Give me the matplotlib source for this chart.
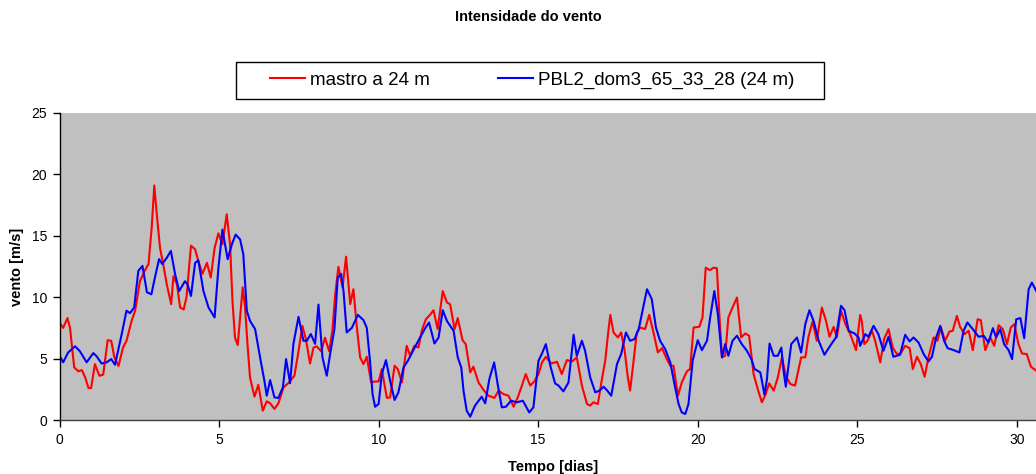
import matplotlib
matplotlib.use("Agg")
import matplotlib.pyplot as plt
from matplotlib.patches import Rectangle

plt.rcParams['font.family'] = ['Liberation Sans', 'DejaVu Sans']

title = "Intensidade do vento"
xlabel = "Tempo [dias]"
ylabel = "vento [m/s]"
label_red = "mastro a 24 m"
label_blue = "PBL2_dom3_65_33_28 (24 m)"

xticks = [0, 5, 10, 15, 20, 25, 30]
yticks = [0, 5, 10, 15, 20, 25]

red_t = [0.0, 0.115, 0.25, 0.33, 0.46, 0.59, 0.70, 0.80, 0.91, 0.99, 1.11, 1.25, 1.37, 1.51, 1.62, 1.72,
         1.85, 1.99, 2.10, 2.26, 2.37, 2.52, 2.68, 2.79, 2.89, 2.97, 3.04, 3.15, 3.25, 3.36, 3.50, 3.57,
         3.68, 3.78, 3.89, 3.98, 4.12, 4.25, 4.35, 4.48, 4.62, 4.74, 4.86,
         4.98, 5.105, 5.24, 5.345, 5.42, 5.5, 5.585, 5.66, 5.74, 5.815, 5.89, 5.97, 6.11, 6.23, 6.37,
         6.495, 6.6, 6.735, 6.86, 7.02, 7.17, 7.36, 7.49, 7.61, 7.72, 7.85, 7.96, 8.06, 8.2, 8.32, 8.45,
         8.55, 8.64, 8.74, 8.87, 8.98, 9.11, 9.21, 9.32, 9.42, 9.525, 9.63, 9.765,
         9.89, 10.0, 10.1, 10.18, 10.26, 10.36, 10.5, 10.6, 10.73, 10.88, 10.99, 11.12, 11.25, 11.35,
         11.48, 11.61, 11.72, 11.85, 12.01, 12.14, 12.24, 12.38, 12.48, 12.63, 12.73, 12.87, 12.97,
         13.13, 13.29, 13.44, 13.63, 13.76, 13.91, 14.07, 14.23, 14.36, 14.49, 14.61, 14.75, 14.88,
         15.01, 15.12, 15.24, 15.41, 15.59, 15.74, 15.9, 16.06, 16.21, 16.37, 16.53, 16.63, 16.73,
         16.87, 16.99, 17.1, 17.2, 17.26, 17.36, 17.5, 17.6, 17.71, 17.81, 17.88, 17.99, 18.09, 18.2,
         18.35, 18.48, 18.62, 18.75, 18.88, 19.03, 19.14, 19.24, 19.38, 19.5, 19.66, 19.76, 19.87,
         20.05, 20.15, 20.25, 20.39, 20.49, 20.6, 20.67, 20.76, 20.86, 20.96, 21.09, 21.23, 21.36,
         21.49, 21.61, 21.75, 21.88, 22.01, 22.11, 22.24, 22.38, 22.51, 22.64, 22.76, 22.9, 23.05,
         23.24, 23.37, 23.47, 23.6, 23.73, 23.89, 24.02, 24.13, 24.26, 24.36, 24.49, 24.62, 24.78,
         24.96, 25.09, 25.14, 25.22, 25.32, 25.46, 25.56, 25.72, 25.84, 25.98, 26.11, 26.24, 26.36,
         26.5, 26.64, 26.74, 26.87, 26.99, 27.11, 27.23, 27.39, 27.51, 27.62, 27.75, 27.89, 27.99,
         28.12, 28.22, 28.36, 28.49, 28.62, 28.77, 28.87, 29.01, 29.17, 29.29, 29.43, 29.56, 29.69,
         29.81, 29.92, 30.05, 30.16, 30.31, 30.44, 30.61]
red_v = [7.94, 7.5, 8.3, 7.5, 4.3, 3.96, 4.07, 3.5, 2.6, 2.6, 4.55, 3.6, 3.7, 6.5, 6.45, 5.1,
         4.4, 5.9, 6.45, 8.07, 8.9, 11.3, 12.2, 12.7, 15.7, 19.1, 17.0, 14.0, 12.7, 11.06, 9.43, 11.7,
         11.06, 9.16, 9.0, 10.0, 14.2, 13.9, 12.95, 11.9, 12.8, 11.6, 14.0,
         15.2, 14.3, 16.75, 14.3, 9.7, 6.7, 6.1, 8.35, 10.8, 9.16, 6.2, 3.47, 1.9, 2.87, 0.76,
         1.52, 1.36, 0.9, 1.36, 2.66, 3.0, 3.6, 5.6, 7.67, 6.6, 4.6, 5.9, 6.0, 5.6, 6.7, 5.6,
         7.26, 10.24, 12.47, 10.8, 13.3, 9.43, 10.65, 7.5, 5.1, 4.55, 5.15, 3.06,
         3.14, 3.14, 4.15, 2.93, 1.8, 1.84, 4.42, 4.15, 3.06, 6.04, 5.23, 6.04, 5.9, 7.26,
         8.2, 8.56, 8.94, 7.4, 10.5, 9.57, 9.43, 7.4, 8.3, 6.5, 6.18, 3.88, 4.34,
         3.06, 2.44, 1.98, 1.8, 2.39, 2.11, 1.98, 1.08, 1.84, 2.8, 3.74, 2.8, 3.14,
         3.74, 4.69, 5.15, 4.6, 4.74, 3.74, 4.88, 4.77, 5.1, 2.8, 1.3, 1.17, 1.44,
         1.3, 3.2, 4.82, 7.26, 8.56, 7.13, 6.72, 7.13, 5.64, 3.47, 2.39, 4.82, 7.13, 7.53,
         7.4, 8.56, 7.05, 5.5, 5.85, 4.96, 4.42, 4.42, 1.98, 3.06, 3.96, 4.15, 7.53,
         7.59, 8.35, 12.4, 12.2, 12.4, 12.36, 8.89, 5.1, 5.23, 8.35, 9.16, 9.97, 6.72,
         7.05, 6.86, 3.74, 2.52, 1.44, 1.98, 2.98, 2.39, 3.47, 5.1, 3.6, 2.93, 2.8,
         5.1, 5.1, 6.78, 8.02, 6.45, 9.16, 8.07, 6.78, 7.59, 6.72, 8.89, 7.86, 6.99,
         5.69, 8.56, 8.07, 6.18, 6.45, 7.26, 6.45, 4.69, 6.59, 7.4, 5.9, 5.37, 5.42,
         6.04, 5.85, 4.15, 5.15, 4.55, 3.52, 5.1, 6.72, 6.45, 7.53, 6.45, 7.21, 7.26,
         8.48, 7.59, 6.99, 7.26, 5.69, 8.2, 8.13, 5.69, 6.72, 6.04, 7.72, 7.4, 6.18,
         7.53, 7.8, 6.18, 5.42, 5.37, 4.34, 4.01]

blue_t = [0.0, 0.115, 0.27, 0.49, 0.64, 0.85, 1.06, 1.16, 1.32, 1.48, 1.62, 1.74, 1.95, 2.10, 2.21,
          2.34, 2.47, 2.6, 2.74, 2.88, 2.99, 3.12, 3.22, 3.36, 3.49, 3.62, 3.75, 3.93, 4.01, 4.12,
          4.25, 4.35, 4.51, 4.67, 4.86,
          4.98, 5.105, 5.27, 5.4, 5.52, 5.66, 5.76, 5.87, 5.97, 6.13, 6.285, 6.42, 6.495, 6.6, 6.735,
          6.86, 7.0, 7.1, 7.225, 7.33, 7.49, 7.645, 7.75, 7.875, 8.01, 8.115, 8.24, 8.375, 8.48,
          8.615, 8.72, 8.825, 8.9, 9.0, 9.16, 9.35, 9.525, 9.63, 9.73, 9.81,
          9.89, 10.0, 10.1, 10.23, 10.36, 10.5, 10.62, 10.78, 10.93, 11.12, 11.3, 11.46, 11.58,
          11.75, 11.88, 12.01, 12.14, 12.35, 12.48, 12.59, 12.66, 12.76, 12.87, 13.02, 13.23, 13.34,
          13.47, 13.62, 13.73, 13.86, 13.99, 14.15, 14.33, 14.52, 14.72, 14.85,
          15.01, 15.12, 15.24, 15.38, 15.53, 15.64, 15.79, 15.95, 16.11, 16.21, 16.37, 16.47, 16.63,
          16.79, 16.92, 17.05, 17.15, 17.29, 17.47, 17.6, 17.75, 17.88, 18.02, 18.15, 18.27, 18.41,
          18.56, 18.69, 18.82, 18.98, 19.14, 19.27, 19.4, 19.5, 19.61, 19.71, 19.84,
          20.0, 20.13, 20.29, 20.39, 20.52, 20.63, 20.76, 20.86, 20.96, 21.09, 21.23, 21.38, 21.54,
          21.68, 21.78, 21.96, 22.03, 22.09, 22.17, 22.25, 22.38, 22.51, 22.62, 22.69, 22.76, 22.85,
          22.93, 23.11, 23.24, 23.37, 23.5, 23.63, 23.79, 23.97, 24.15, 24.33, 24.49, 24.6, 24.73,
          24.91, 25.04, 25.09, 25.25, 25.35, 25.51, 25.66, 25.82, 25.98, 26.13, 26.34, 26.5, 26.64,
          26.76, 26.92, 27.08, 27.23, 27.34, 27.47, 27.6, 27.72, 27.83, 28.02, 28.2, 28.33, 28.45,
          28.62, 28.8, 28.96, 29.11, 29.25, 29.35, 29.48, 29.6, 29.74, 29.85, 29.98, 30.11, 30.23,
          30.37, 30.47, 30.61]
blue_v = [5.23, 4.7, 5.5, 6.0, 5.6, 4.7, 5.45, 5.2, 4.6, 4.7, 4.96, 4.5, 7.0, 8.9, 8.7,
          9.16, 12.14, 12.55, 10.4, 10.24, 11.6, 13.1, 12.7, 13.2, 13.77, 11.9, 10.5, 11.3, 11.06, 10.1,
          12.8, 13.0, 10.5, 9.16, 8.35,
          12.4, 15.5, 13.1, 14.3, 15.1, 14.7, 13.5, 8.9, 8.07, 7.4, 5.1, 3.2, 1.98, 3.25, 1.84,
          1.8, 2.66, 4.96, 3.0, 6.2, 8.4, 6.45, 6.45, 7.0, 6.2, 9.4, 5.1, 3.6, 5.37,
          7.4, 11.6, 11.9, 10.5, 7.13, 7.5, 8.56, 8.13, 7.5, 4.8, 2.1,
          1.08, 1.3, 3.74, 4.88, 3.2, 1.63, 2.25, 4.28, 4.88, 5.85, 6.72, 7.48, 7.94,
          6.23, 6.72, 8.94, 8.07, 7.26, 5.1, 4.28, 2.39, 0.76, 0.27, 1.17, 1.9, 1.36,
          3.33, 4.69, 2.93, 1.03, 1.08, 1.57, 1.44, 1.57, 0.62, 1.03,
          4.82, 5.42, 6.18, 4.42, 2.98, 2.8, 2.33, 3.06, 6.94, 5.23, 6.45, 5.64, 3.47,
          2.25, 2.39, 2.71, 2.44, 1.98, 4.55, 5.37, 7.13, 6.45, 6.59, 7.4, 8.89, 10.65,
          9.84, 7.53, 6.45, 5.77, 4.69, 2.93, 1.3, 0.62, 0.49, 1.3, 4.82,
          6.5, 5.69, 6.45, 8.35, 10.5, 8.62, 5.1, 6.18, 5.23, 6.45, 6.86, 6.18, 5.64,
          4.96, 4.15, 3.88, 2.93, 2.06, 3.33, 6.23, 5.23, 5.23, 5.9, 4.0, 2.71, 4.55,
          6.18, 6.72, 5.5, 7.8, 8.94, 8.07, 6.45, 5.31, 6.04, 6.72, 9.3, 8.94, 7.26,
          7.05, 6.72, 6.04, 6.99, 6.78, 7.67, 6.99, 5.64, 6.78, 5.15, 5.31, 6.94, 6.4,
          6.72, 6.31, 5.37, 4.77, 5.15, 6.72, 7.67, 6.45, 5.85, 5.69, 5.5, 7.26, 7.94,
          7.4, 6.78, 6.86, 6.31, 7.48, 6.72, 7.4, 6.18, 5.69, 4.96, 8.2, 8.3, 6.67,
          10.65, 11.19, 10.5]

W, H = 1036, 474
fig = plt.figure(figsize=(W / 100, H / 100), dpi=100)
fig.patch.set_facecolor('white')

left, right, bottom, top = 59.5, 1036, 420, 113
ax = fig.add_axes([left / W, 1 - bottom / H, (right - left) / W, (bottom - top) / H])
ax.set_facecolor('#C0C0C0')

l1, = ax.plot(red_t, red_v, color='#FF0000', lw=1.5, label=label_red)
l2, = ax.plot(blue_t, blue_v, color='#0000FF', lw=1.5, label=label_blue)

ax.set_xlim(0, 30.6)
ax.set_ylim(0, 25)
ax.set_xticks(xticks)
ax.set_yticks(yticks)
ax.tick_params(axis='both', direction='out', length=5, width=1, color='black',
               labelsize=10, pad=4, labelcolor='black')
for s in ['top', 'right']:
    ax.spines[s].set_visible(False)
ax.spines['left'].set_color('black')
ax.spines['bottom'].set_color('#404040')
ax.spines['left'].set_linewidth(1)
ax.spines['bottom'].set_linewidth(1)

ax.set_xlabel(xlabel, fontsize=10.5, fontweight='bold')
ax.xaxis.set_label_coords(0.5054, -0.152)
ax.xaxis.label.set_va('center')
ax.set_ylabel(ylabel, fontsize=10.5, fontweight='bold', labelpad=5)

fig.text(528 / W, 1 - 17 / H, title, ha='center', va='center', fontsize=10.5, fontweight='bold')

# legend box
fig.patches.append(Rectangle((236 / W, 1 - 99 / H), 588 / W, 37 / H, fill=False,
                             edgecolor='black', lw=1, transform=fig.transFigure, figure=fig))
fig.legend(handles=[l1, l2], loc='center', bbox_to_anchor=(532 / W, 1 - 80.5 / H),
           ncol=2, frameon=False, fontsize=13.5, handlelength=1.87, handletextpad=0.27,
           columnspacing=3.6, borderpad=0.2)

fig.savefig('out.png', dpi=100)
